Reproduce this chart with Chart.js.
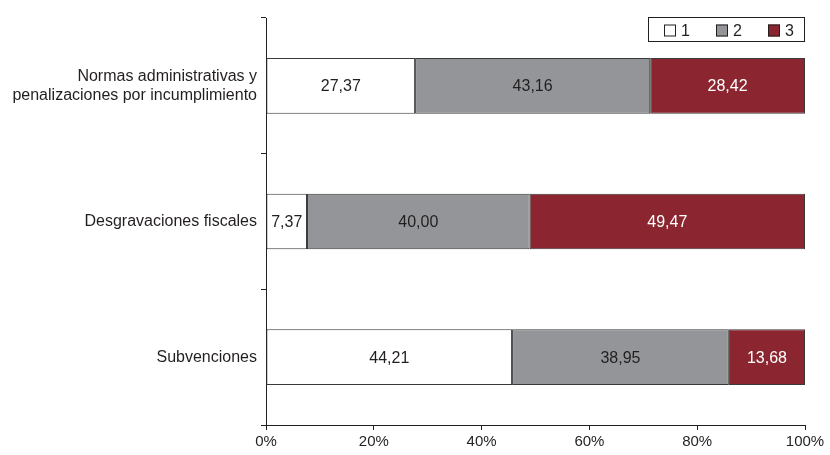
<!DOCTYPE html>
<html>
<head>
<meta charset="utf-8">
<script src="https://cdn.jsdelivr.net/npm/chart.js@4.4.0/dist/chart.umd.min.js"></script>
<style>
  html, body { margin: 0; padding: 0; background: #fff; }
  #wrap { width: 830px; height: 455px; }
</style>
</head>
<body>
<div id="wrap"><canvas id="chart"></canvas></div>
<script>
const categories = [
  ['Normas administrativas y', 'penalizaciones por incumplimiento'],
  'Desgravaciones fiscales',
  'Subvenciones'
];
const seriesNames = ['1', '2', '3'];
const serie1 = [27.37, 7.37, 44.21];
const serie2 = [43.16, 40.00, 38.95];
const serie3 = [28.42, 49.47, 13.68];
const xTicks = [0, 20, 40, 60, 80, 100];

const colors = ['#ffffff', '#939598', '#8b2630'];
const textColors = ['#231f20', '#231f20', '#ffffff'];
const raw = [serie1, serie2, serie3];
const FONT = '"Liberation Sans", Arial, sans-serif';

// each bar is scaled to 100% of its own total
const totals = categories.map((c, i) => serie1[i] + serie2[i] + serie3[i]);

const fmt = v => v.toFixed(2).replace('.', ',');

const barLabels = {
  id: 'barLabels',
  afterDatasetsDraw(chart) {
    const ctx = chart.ctx;
    ctx.save();
    ctx.font = '16px ' + FONT;
    ctx.textAlign = 'center';
    ctx.textBaseline = 'middle';
    chart.data.datasets.forEach((ds, di) => {
      chart.getDatasetMeta(di).data.forEach((bar, i) => {
        const x = (bar.x + bar.base) / 2;
        ctx.fillStyle = textColors[di];
        ctx.fillText(fmt(raw[di][i]), x, bar.y + 1);
      });
    });
    ctx.restore();
  }
};

const boxLegend = {
  id: 'boxLegend',
  afterDraw(chart) {
    const ctx = chart.ctx;
    const right = chart.chartArea.right;
    const top = chart.chartArea.top - 1;
    const w = 157, h = 25;
    const left = right - w;
    ctx.save();
    ctx.strokeStyle = '#231f20';
    ctx.lineWidth = 1;
    ctx.fillStyle = '#fff';
    ctx.fillRect(left, top, w, h);
    ctx.strokeRect(left + 0.5, top + 0.5, w - 1, h - 1);
    ctx.font = '16px ' + FONT;
    ctx.textBaseline = 'middle';
    const step = 52;
    seriesNames.forEach((name, i) => {
      const x = left + 16 + i * step;
      const y = top + h / 2 + 1;
      ctx.fillStyle = colors[i];
      ctx.fillRect(x, y - 6, 12, 12);
      ctx.strokeStyle = '#231f20';
      ctx.strokeRect(x + 0.5, y - 5.5, 11, 11);
      ctx.fillStyle = '#231f20';
      ctx.fillText(name, x + 17, y + 1);
    });
    ctx.restore();
  }
};

new Chart(document.getElementById('chart').getContext('2d'), {
  type: 'bar',
  data: {
    labels: categories,
    datasets: seriesNames.map((name, di) => ({
      label: name,
      data: raw[di].map((v, i) => v / totals[i] * 100),
      backgroundColor: colors[di],
      borderColor: '#3a3a3a',
      borderWidth: 1,
      borderSkipped: false,
      categoryPercentage: 0.41,
      barPercentage: 1
    }))
  },
  options: {
    indexAxis: 'y',
    responsive: true,
    maintainAspectRatio: false,
    animation: false,
    layout: { padding: { top: 18, right: 25, left: 0, bottom: 0 } },
    plugins: {
      legend: { display: false },
      tooltip: { enabled: false }
    },
    scales: {
      x: {
        stacked: true,
        min: 0,
        max: 100,
        afterBuildTicks: s => { s.ticks = xTicks.map(v => ({ value: v })); },
        afterFit: s => { s.height = 30; },
        grid: {
          drawOnChartArea: false,
          drawTicks: true,
          tickLength: 5,
          color: '#231f20'
        },
        border: { color: '#231f20', width: 1 },
        ticks: {
          color: '#231f20',
          padding: 3,
          font: { size: 15, family: FONT }
        ,
          callback: v => v + '%'
        }
      },
      y: {
        stacked: true,
        afterFit: s => { s.width = 266; },
        grid: {
          drawOnChartArea: false,
          drawTicks: true,
          tickLength: 5,
          offset: true,
          color: '#231f20'
        },
        border: { color: '#231f20', width: 1 },
        ticks: {
          color: '#231f20',
          padding: 4,
          font: { size: 16, family: FONT, lineHeight: 1.2 }
        }
      }
    }
  },
  plugins: [barLabels, boxLegend]
});
</script>
</body>
</html>
